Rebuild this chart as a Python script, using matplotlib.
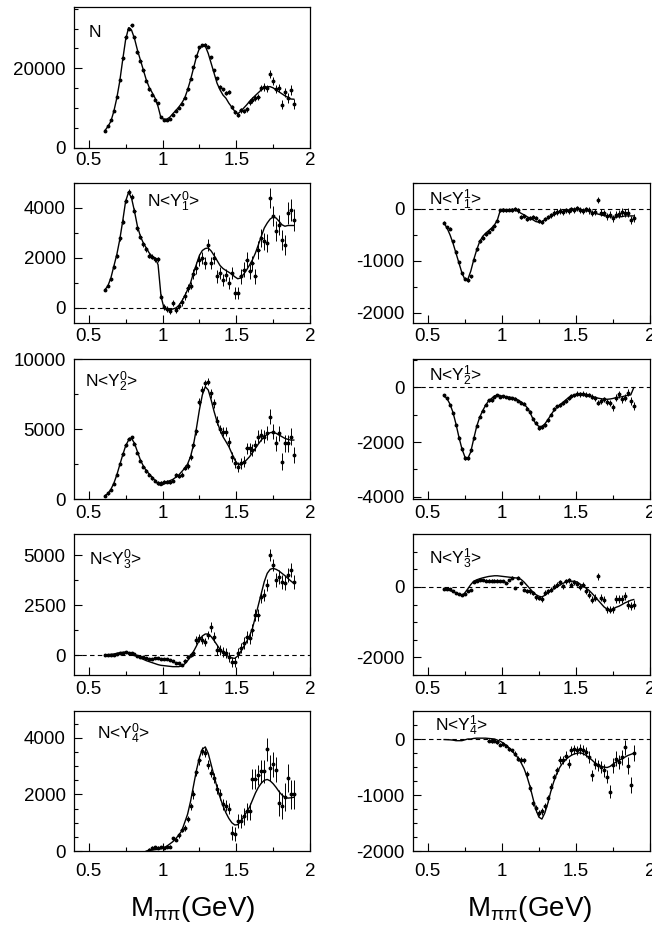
import numpy as np
import matplotlib
matplotlib.use("Agg")
import matplotlib.pyplot as plt
from matplotlib.ticker import MultipleLocator, FormatStrFormatter

plt.rcParams['font.family'] = ['Liberation Sans', 'DejaVu Sans']
plt.rcParams['mathtext.fontset'] = 'custom'
plt.rcParams['mathtext.rm'] = 'Liberation Sans'
plt.rcParams['mathtext.it'] = 'Liberation Sans:italic'
plt.rcParams['mathtext.bf'] = 'Liberation Sans:bold'
plt.rcParams['axes.unicode_minus'] = False

nan = np.nan

# bin centres (GeV)
mass = [0.61, 0.63, 0.65, 0.67, 0.69, 0.71, 0.73, 0.75, 0.77, 0.79,
        0.81, 0.83, 0.85, 0.87, 0.89, 0.91, 0.93, 0.95, 0.97, 0.99,
        1.01, 1.03, 1.05, 1.07, 1.09, 1.11, 1.13, 1.15, 1.17, 1.19,
        1.21, 1.23, 1.25, 1.27, 1.29, 1.31, 1.33, 1.35, 1.37, 1.39,
        1.41, 1.43, 1.45, 1.47, 1.49, 1.51, 1.53, 1.55, 1.57, 1.59,
        1.61, 1.63, 1.65, 1.67, 1.69, 1.71, 1.73, 1.75, 1.77, 1.79,
        1.81, 1.83, 1.85, 1.87, 1.89]

# ---------------- N ----------------
N_fit = [4400, 5400, 6700, 9200, 12500, 16700, 22100, 27200, 30200, 29600,
         27500, 24600, 22100, 19600, 17100, 15200, 13900, 12500, 10400, 7500,
         7250, 7250, 7750, 8600, 9400, 10250, 11250, 12500, 14600, 17100,
         20000, 22900, 25000, 25800, 25600, 23750, 21250, 18750, 16250, 14600,
         13300, 12500, 11250, 10250, 9200, 8600, 9200, 10000, 10800, 11700,
         12500, 13200, 13900, 14600, 15100, 15400, 15400, 15100, 14600, 14100,
         13600, 13100, 12750, 12300, 12250]
N_dat = [4300, 5600, 7000, 9400, 12700, 17000, 22500, 27800, 30000, 30800,
         27800, 24000, 21800, 19500, 16800, 14700, 13300, 12000, 11300, 7800,
         7100, 7000, 7200, 8300, 9200, 10000, 11000, 12600, 14700, 17400,
         20300, 23000, 25300, 25800, 25900, 25400, 22800, 19500, 17500, 15300,
         14700, 13800, 14100, 10200, 9000, 8400, 9500, 9300, 9700, 11500,
         12000, 12500, 12800, 15000, 15300, 15000, 18700, 16900, 14800, 15100,
         10900, 14000, 12600, 14500, 11000]
N_err = [200, 200, 200, 250, 250, 300, 300, 350, 350, 350,
         350, 300, 300, 300, 300, 300, 300, 300, 300, 300,
         250, 250, 250, 250, 250, 300, 300, 300, 300, 300,
         350, 350, 400, 400, 400, 400, 400, 400, 400, 400,
         450, 500, 500, 500, 500, 500, 600, 600, 600, 700,
         700, 700, 800, 800, 900, 900, 1000, 1000, 1000, 1000,
         1100, 1100, 1200, 1200, 1200]

# ---------------- Y10 ----------------
Y10_fit = [730, 890, 1200, 1670, 2130, 2730, 3470, 4270, 4630, 4400,
           3870, 3270, 2870, 2600, 2400, 2200, 2070, 2000, 1730, 470,
           0, -70, -70, -40, 0, 90, 270, 470, 730, 1000,
           1400, 1750, 2100, 2300, 2380, 2400, 2280, 2100, 1900, 1700,
           1580, 1500, 1430, 1350, 1250, 1170, 1200, 1350, 1520, 1720,
           1930, 2200, 2530, 2870, 3200, 3400, 3560, 3640, 3600, 3470,
           3330, 3270, 3300, 3300, 3300]
Y10_dat = [730, 900, 1150, 1650, 2100, 2800, 3450, 4300, 4650, 4450,
           3900, 3200, 2850, 2550, 2350, 2100, 2050, 1950, 1950, 450,
           50, -50, -130, 200, -80, 100, 250, 480, 800, 900,
           1350, 1600, 1930, 2000, 1800, 2530, 1800, 2000, 1270, 1400,
           1130, 1330, 1000, 1400, 600, 600, 1270, 1530, 1930, 1470,
           1800, 1270, 2330, 2800, 2670, 2600, 4400, 3670, 3070, 3330,
           2730, 2530, 3800, 3930, 3530]
Y10_err = [60, 60, 60, 80, 80, 100, 100, 100, 100, 100,
           100, 100, 100, 100, 100, 100, 100, 100, 100, 100,
           120, 120, 120, 120, 120, 120, 150, 150, 150, 150,
           200, 250, 250, 250, 250, 250, 250, 250, 250, 250,
           250, 250, 250, 250, 250, 250, 300, 300, 300, 300,
           300, 300, 350, 350, 350, 350, 400, 400, 400, 400,
           400, 400, 450, 450, 450]

# ---------------- Y11 ----------------
Y11_fit = [-275, -370, -500, -660, -850, -1040, -1230, -1360, -1360, -1200,
           -980, -790, -630, -530, -470, -420, -370, -310, -210, -20,
           -5, -20, -20, -5, -20, -50, -85, -115, -150, -180,
           -210, -245, -255, -245, -210, -180, -150, -115, -85, -65,
           -50, -30, -20, -5, 0, 5, -5, -20, -30, -50,
           -65, -85, -100, -115, -130, -135, -150, -160, -160, -150,
           -150, -135, -135, -135, -135]
Y11_dat = [-270, -350, -380, -620, -830, -1030, -1240, -1350, -1370, -1300,
           -980, -780, -620, -560, -490, -440, -380, -320, -230, -30,
           -20, -30, -15, -20, -5, -30, -150, -130, -200, -180,
           -150, -170, -240, -260, -200, -160, -120, -80, -60, -40,
           -60, -30, -40, -10, -20, 10, -20, -40, -10, -30,
           -80, -60, 170, -70, -80, -140, -110, -180, -110, -100,
           -60, -80, -70, -210, -180]
Y11_err = [30, 30, 30, 30, 30, 30, 30, 30, 30, 30,
           30, 30, 30, 30, 30, 30, 30, 30, 30, 30,
           30, 30, 30, 30, 40, 40, 40, 40, 40, 40,
           40, 40, 40, 40, 40, 40, 50, 50, 50, 50,
           50, 50, 50, 50, 50, 50, 50, 50, 50, 60,
           60, 60, 60, 60, 60, 70, 70, 70, 70, 70,
           70, 70, 80, 80, 80]

# ---------------- Y20 ----------------
Y20_fit = [210, 400, 690, 1120, 1710, 2430, 3140, 3790, 4210, 4330,
           3980, 3380, 2790, 2360, 2020, 1790, 1550, 1310, 1070, 950,
           1070, 1240, 1310, 1400, 1550, 1710, 1950, 2190, 2500, 3020,
           3860, 5050, 6360, 7430, 8020, 7790, 7070, 6240, 5520, 4930,
           4450, 4100, 3740, 3260, 2790, 2500, 2430, 2600, 2790, 3020,
           3310, 3620, 3930, 4210, 4450, 4620, 4740, 4760, 4690, 4570,
           4450, 4330, 4260, 4210, 4210]
Y20_dat = [250, 400, 650, 1100, 1750, 2500, 3200, 3850, 4300, 4400,
           3950, 3300, 2750, 2300, 2000, 1750, 1500, 1300, 1150, 1150,
           1250, 1250, 1200, 1300, 1700, 1650, 1750, 2250, 2350, 3000,
           3850, 4850, 6950, 7790, 8260, 8380, 7550, 6830, 5600, 5000,
           4810, 4810, 4100, 3020, 2550, 2300, 2550, 2670, 3620, 3620,
           3500, 3850, 4450, 4570, 4450, 4690, 5880, 4810, 3980, 4690,
           2670, 3980, 3980, 4450, 3140]
Y20_err = [80, 80, 80, 100, 100, 100, 120, 120, 120, 120,
           120, 120, 120, 120, 120, 120, 120, 120, 120, 120,
           120, 120, 120, 120, 150, 150, 150, 150, 200, 200,
           200, 250, 250, 250, 250, 250, 300, 300, 300, 300,
           300, 300, 350, 350, 350, 350, 400, 400, 400, 400,
           400, 400, 450, 450, 450, 500, 550, 550, 550, 550,
           600, 600, 600, 600, 600]

# ---------------- Y21 ----------------
Y21_fit = [-300, -420, -620, -920, -1340, -1820, -2240, -2540, -2600, -2360,
           -1880, -1430, -1100, -860, -660, -500, -410, -320, -290, -300,
           -350, -350, -360, -380, -420, -470, -540, -620, -740, -920,
           -1160, -1340, -1430, -1430, -1340, -1190, -1020, -860, -740, -660,
           -560, -470, -380, -320, -280, -240, -230, -240, -260, -300,
           -340, -370, -400, -420, -440, -440, -430, -410, -380, -360,
           -350, -320, -300, -280, -20]
Y21_dat = [-300, -400, -650, -950, -1380, -1850, -2250, -2600, -2580, -2300,
           -1850, -1400, -1080, -850, -650, -480, -480, -350, -280, -350,
           -330, -360, -380, -400, -420, -500, -560, -600, -780, -900,
           -1150, -1300, -1500, -1450, -1380, -1200, -1000, -800, -700, -650,
           -580, -500, -400, -330, -300, -230, -260, -230, -270, -290,
           -350, -400, -560, -500, -440, -540, -560, -740, -380, -260,
           -440, -380, -200, -500, -680]
Y21_err = [40, 40, 40, 50, 50, 60, 60, 60, 60, 60,
           60, 50, 50, 50, 50, 50, 50, 50, 50, 50,
           50, 50, 50, 50, 50, 50, 60, 60, 60, 60,
           60, 60, 60, 60, 60, 60, 60, 60, 60, 60,
           70, 70, 70, 70, 70, 80, 80, 80, 80, 80,
           90, 90, 100, 100, 100, 110, 110, 120, 120, 120,
           130, 130, 130, 140, 140]

# ---------------- Y30 ----------------
Y30_fit = [0, 17, 33, 50, 83, 117, 133, 150, 117, 50,
           -17, -83, -150, -217, -283, -333, -383, -433, -483, -517,
           -533, -550, -567, -583, -583, -583, -550, -450, -283, -83,
           167, 450, 750, 950, 1050, 1050, 917, 717, 500, 283,
           117, 0, -83, -150, -167, -50, 167, 417, 667, 950,
           1333, 1917, 2500, 3083, 3667, 4083, 4283, 4333, 4283, 4200,
           4083, 3967, 3833, 3700, 3583]
Y30_dat = [0, 0, 0, 20, 50, 80, 120, 150, 100, 80,
           30, -30, -80, -100, -130, -180, -200, -150, -170, -200,
           -180, -200, -250, -300, -380, -420, -500, -300, -100, 0,
           80, 750, 830, 750, 670, 1000, 1420, 920, 250, 250,
           170, 80, -80, -330, -330, 80, 330, 580, 920, 830,
           1250, 2000, 2000, 2920, 3000, 3500, 5000, 4500, 3750, 3920,
           3670, 3580, 4000, 4250, 3670]
Y30_err = [40, 40, 40, 40, 40, 40, 40, 40, 40, 40,
           40, 40, 40, 40, 40, 40, 40, 40, 50, 50,
           50, 50, 50, 50, 50, 60, 60, 80, 100, 120,
           150, 200, 200, 200, 200, 200, 250, 250, 250, 250,
           250, 250, 250, 250, 250, 250, 250, 300, 300, 300,
           300, 300, 300, 300, 300, 300, 300, 300, 350, 350,
           350, 350, 350, 350, 350]

# ---------------- Y31 ----------------
Y31_fit = [-50, -75, -105, -135, -170, -210, -250, -170, -55, 65,
           160, 200, 230, 255, 275, 295, 305, 315, 315, 305,
           295, 285, 275, 265, 255, 250, 210, 135, 40, -55,
           -150, -220, -265, -285, -240, -170, -105, -50, 0, 50,
           95, 135, 150, 160, 160, 135, 75, 20, -40, -105,
           -190, -285, -380, -475, -570, -630, -650, -630, -580, -550,
           -505, -455, -420, -380, -360]
Y31_dat = [-50, -60, -70, -110, -170, -190, -240, -200, -130, -90,
           150, 160, 190, 190, 180, 180, 180, 180, 180, 170,
           170, 110, 190, 260, -30, 260, 110, -80, -110, -130,
           -170, -290, -315, -345, -170, -120, -80, 0, 65, 130,
           20, 160, 190, 65, 130, 95, 0, 65, -125, -220,
           -360, -310, 305, -310, -360, -630, -650, -630, -340, -340,
           -340, -265, -505, -550, -505]
Y31_err = [25, 25, 25, 25, 25, 25, 25, 25, 25, 30,
           30, 30, 30, 30, 30, 30, 30, 30, 30, 30,
           30, 30, 30, 40, 40, 40, 50, 50, 50, 60,
           60, 70, 70, 80, 70, 70, 70, 70, 70, 70,
           70, 70, 70, 70, 70, 80, 80, 80, 80, 90,
           90, 100, 100, 100, 100, 100, 100, 100, 110, 110,
           110, 110, 120, 120, 120]

# ---------------- Y40 ----------------
Y40_fit = [nan, nan, nan, nan, nan, nan, nan, nan, nan, nan,
           nan, nan, nan, nan, 0, 20, 35, 47, 60, 80,
           120, 175, 250, 330, 435, 565, 705, 1000, 1300, 1750,
           2300, 2850, 3300, 3600, 3680, 3450, 3050, 2650, 2250, 1900,
           1600, 1350, 1150, 1000, 920, 930, 1050, 1200, 1380, 1550,
           1800, 2050, 2250, 2400, 2500, 2530, 2480, 2380, 2250, 2100,
           1980, 1900, 1870, 1880, 1900]
Y40_dat = [nan, nan, nan, nan, nan, nan, nan, nan, nan, nan,
           nan, nan, nan, nan, nan, 50, 120, 140, 120, 130,
           100, 150, 150, 450, 400, 550, 760, 820, 1120, 1580,
           2000, 2800, 3200, 3530, 3480, 3050, 2760, 2580, 2180, 2000,
           1650, 1600, 1500, 650, 600, 1050, 1050, 1230, 1400, 1400,
           2550, 2550, 2700, 2820, 2820, 3590, 2940, 3060, 2880, 1700,
           1590, 1900, 2590, 2000, 2000]
Y40_err = [0, 0, 0, 0, 0, 0, 0, 0, 0, 0,
           0, 0, 0, 0, 0, 40, 40, 40, 40, 40,
           40, 50, 50, 60, 60, 80, 80, 100, 100, 120,
           150, 150, 150, 150, 150, 150, 150, 180, 180, 180,
           200, 200, 200, 250, 250, 250, 250, 300, 300, 300,
           350, 350, 350, 400, 400, 400, 450, 450, 450, 450,
           450, 500, 500, 500, 500]

# ---------------- Y41 ----------------
Y41_fit = [-10, -12, -15, -20, -30, -30, -30, -15, 0, 0,
           10, 15, 15, 15, 15, 10, 5, 0, -20, -40,
           -75, -120, -165, -220, -275, -340, -425, -530, -675, -850,
           -1060, -1265, -1395, -1430, -1320, -1150, -940, -765, -620, -510,
           -430, -370, -325, -290, -265, -255, -245, -265, -295, -335,
           -380, -430, -465, -490, -500, -510, -490, -450, -410, -380,
           -355, -325, -295, -275, -255]
Y41_dat = [nan, nan, nan, nan, nan, nan, nan, nan, nan, nan,
           nan, nan, nan, nan, nan, -30, -40, -30, -60, -100,
           -90, -120, -180, -200, -260, -350, -370, -380, -620, -880,
           -1150, -1240, -1320, -1290, -1200, -1060, -850, -680, -560, -380,
           -380, -300, -440, -200, -180, -200, -180, -200, -230, -320,
           -645, -440, -470, -500, -560, -670, -940, -470, -350, -410,
           -330, -150, -480, -820, -250]
Y41_err = [0, 0, 0, 0, 0, 0, 0, 0, 0, 0,
           0, 0, 0, 0, 0, 25, 25, 25, 30, 30,
           30, 30, 30, 30, 40, 40, 40, 40, 50, 50,
           50, 60, 60, 60, 60, 60, 60, 60, 60, 70,
           70, 80, 80, 80, 80, 80, 90, 90, 90, 100,
           100, 100, 100, 110, 110, 120, 120, 130, 130, 130,
           140, 140, 150, 150, 150]

labels = {
    'N': 'N',
    'Y10': r'N<$\mathregular{Y^0_1}$>', 'Y11': r'N<$\mathregular{Y^1_1}$>',
    'Y20': r'N<$\mathregular{Y^0_2}$>', 'Y21': r'N<$\mathregular{Y^1_2}$>',
    'Y30': r'N<$\mathregular{Y^0_3}$>', 'Y31': r'N<$\mathregular{Y^1_3}$>',
    'Y40': r'N<$\mathregular{Y^0_4}$>', 'Y41': r'N<$\mathregular{Y^1_4}$>',
}

W, H = 652, 926
fig = plt.figure(figsize=(W / 100, H / 100), dpi=100)

def add_axes(x0, x1, ytop, ybot):
    return fig.add_axes([x0 / W, 1 - ybot / H, (x1 - x0) / W, (ybot - ytop) / H])

# (key, data, fit, err, x0, x1, ytop, ybot, ylim, major, minor, zero line, label pos, xpad)
panels = [
    ('N', N_dat, N_fit, N_err, 74, 310, 7, 148, (0, 35400), 20000, 5000, False, (0.06, 0.79), 3),
    ('Y10', Y10_dat, Y10_fit, Y10_err, 74, 310, 183, 323, (-600, 5000), 2000, 1000, True, (0.31, 0.83), 3.5),
    ('Y11', Y11_dat, Y11_fit, Y11_err, 413, 650, 183, 323, (-2200, 500), 1000, 500, True, (0.066, 0.845), 3.5),
    ('Y20', Y20_dat, Y20_fit, Y20_err, 74, 310, 359, 499, (0, 10000), 5000, 2500, False, (0.047, 0.80), 4.5),
    ('Y21', Y21_dat, Y21_fit, Y21_err, 413, 650, 359, 499, (-4080, 1030), 2000, 1000, True, (0.066, 0.84), 4.5),
    ('Y30', Y30_dat, Y30_fit, Y30_err, 74, 310, 534, 675, (-1000, 6050), 2500, 1250, True, (0.065, 0.78), 4.5),
    ('Y31', Y31_dat, Y31_fit, Y31_err, 413, 650, 534, 675, (-2500, 1500), 2000, 500, True, (0.066, 0.79), 4.5),
    ('Y40', Y40_dat, Y40_fit, Y40_err, 74, 310, 711, 851, (0, 4950), 2000, 500, False, (0.096, 0.80), 8.5),
    ('Y41', Y41_dat, Y41_fit, Y41_err, 413, 650, 711, 851, (-2000, 500), 1000, 250, True, (0.094, 0.86), 8.5),
]

x = np.array(mass, dtype=float)
for key, dat, fit, err, x0, x1, yt, yb, ylim, maj, mnr, zero, lpos, xpad in panels:
    ax = add_axes(x0, x1, yt, yb)
    d = np.array(dat, dtype=float)
    f = np.array(fit, dtype=float)
    e = np.array(err, dtype=float)
    if zero:
        ax.axhline(0, color='k', lw=0.8, ls=(0, (4, 3)), zorder=1)
    ax.errorbar(x, d, yerr=e, xerr=0.008, fmt='o', ms=1.8, color='k',
                elinewidth=0.7, capsize=0, zorder=3)
    ax.plot(x, f, color='k', lw=1.0, zorder=2)
    ax.set_xlim(0.4, 2.0)
    ax.set_ylim(*ylim)
    ax.xaxis.set_major_locator(MultipleLocator(0.5))
    ax.xaxis.set_minor_locator(MultipleLocator(0.25))
    ax.yaxis.set_major_locator(MultipleLocator(maj))
    ax.yaxis.set_minor_locator(MultipleLocator(mnr))
    ax.xaxis.set_major_formatter(FormatStrFormatter('%g'))
    ax.yaxis.set_major_formatter(FormatStrFormatter('%d'))
    ax.tick_params(which='both', direction='in', top=False, right=False,
                   labelsize=13.5, width=0.8)
    ax.tick_params(which='major', length=5.8)
    ax.tick_params(which='minor', length=3.2)
    ax.tick_params(axis='x', which='both', pad=xpad)
    ax.tick_params(axis='y', which='both', pad=6)
    for s in ax.spines.values():
        s.set_linewidth(0.9)
    ax.text(lpos[0], lpos[1], labels[key], transform=ax.transAxes,
            fontsize=12.5, va='baseline', ha='left')

xlabel = r'M$_{\mathregular{\pi\pi}}$(GeV)'
fig.text(193 / W, 1 - 916 / H, xlabel, ha='center', va='baseline', fontsize=20)
fig.text(530 / W, 1 - 916 / H, xlabel, ha='center', va='baseline', fontsize=20)

fig.savefig('out.png', dpi=100)
